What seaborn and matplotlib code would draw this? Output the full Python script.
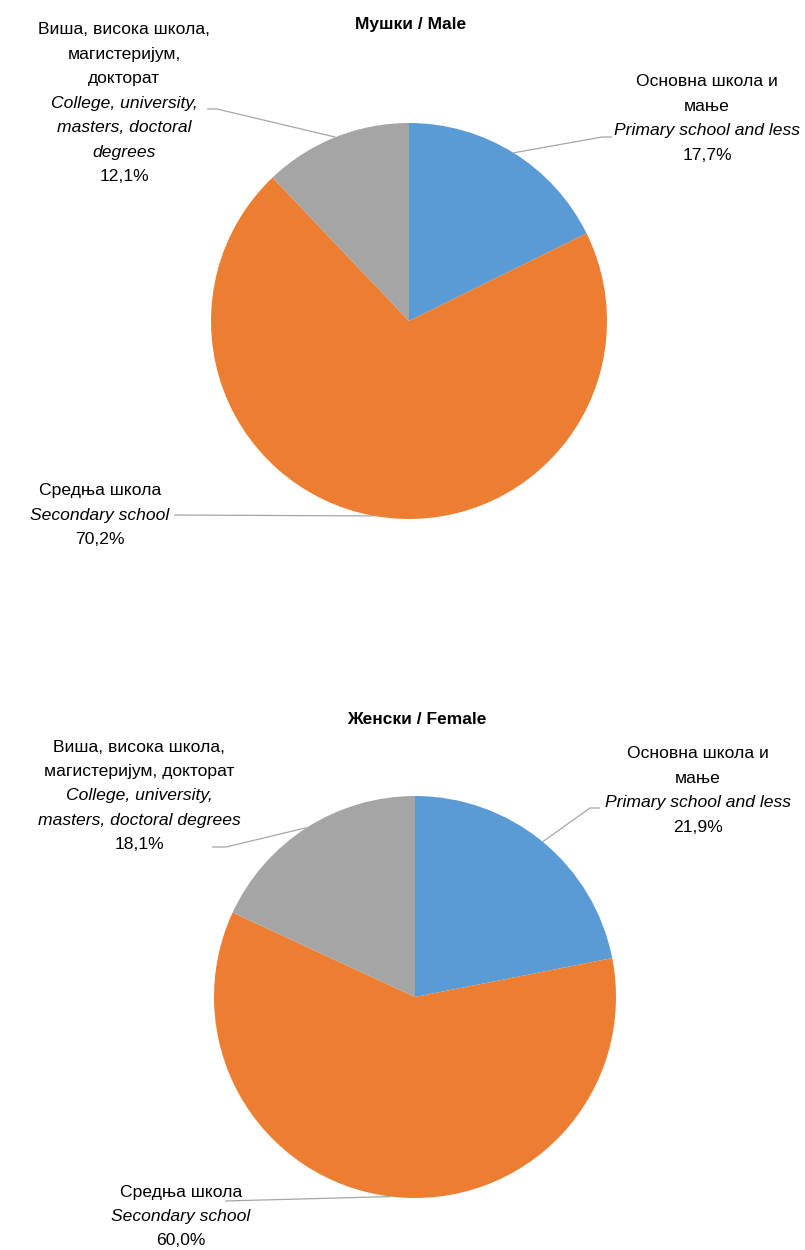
import matplotlib
matplotlib.use("Agg")
import matplotlib.pyplot as plt
import seaborn as sns
import numpy as np

# Подаци
kategorije = ["Основна школа и мање", "Средња школа", "Виша, висока школа, магистеријум, докторат"]
boje = ["#5B9BD5", "#ED7D31", "#A5A5A5"]
muski = [17.7, 70.2, 12.1]
zenski = [21.9, 60.0, 18.1]
naslovi = ["Мушки / Male", "Женски / Female"]

# natpisi: (srpski redovi, engleski redovi) za svaku kategoriju
natpisi_muski = [
    (["Основна школа и", "мање"], ["Primary school and less"]),
    (["Средња школа"], ["Secondary school"]),
    (["Виша, висока школа,", "магистеријум,", "докторат"],
     ["College, university,", "masters, doctoral", "degrees"]),
]
natpisi_zenski = [
    (["Основна школа и", "мање"], ["Primary school and less"]),
    (["Средња школа"], ["Secondary school"]),
    (["Виша, висока школа,", "магистеријум, докторат"],
     ["College, university,", "masters, doctoral degrees"]),
]

sns.set_theme(style="white")
plt.rcParams['font.family'] = ['Liberation Sans Narrow', 'Liberation Sans', 'DejaVu Sans']

W, H = 805, 1250
fig = plt.figure(figsize=(W / 100, H / 100), dpi=100)
ax = fig.add_axes([0, 0, 1, 1])

FS = 12.6
STEP = 24.4
LINE_COL = "#A6A6A6"


def fmt(v):
    return f"{v:.1f}".replace(".", ",") + "%"


def natpis(x, y_top, sr, en, v):
    redovi = [(t, "normal") for t in sr] + [(t, "italic") for t in en] + [(fmt(v), "normal")]
    for i, (t, st) in enumerate(redovi):
        ax.text(x, H - (y_top + i * STEP), t, ha="center", va="center",
                fontsize=FS, style=st, color="#000000")


def pita(vrednosti, cx, cy, r, naslov, ty, natpisi, poz, linije):
    ax.pie(vrednosti, colors=boje, startangle=90, counterclock=False,
           center=(cx, H - cy), radius=r, wedgeprops=dict(linewidth=0))
    ax.text(cx + 2, H - ty, naslov, ha="center", va="center", fontsize=12.5,
            fontweight="bold", color="#000000")
    ukupno = sum(vrednosti)
    kum = 0
    for v, (sr, en), (lx, ly), lin in zip(vrednosti, natpisi, poz, linije):
        sred = (kum + v / 2) / ukupno * 2 * np.pi
        kum += v
        ex = cx + r * np.sin(sred)
        ey = cy - r * np.cos(sred)
        natpis(lx, ly, sr, en, v)
        xs = [p[0] for p in lin] + [ex]
        ys = [H - p[1] for p in lin] + [H - ey]
        ax.plot(xs, ys, color=LINE_COL, lw=0.9, solid_capstyle="butt")


pita(muski, 409, 321, 198, naslovi[0], 25, natpisi_muski,
     [(707, 82), (100, 491), (124, 30)],
     [[(612, 137), (602, 137)], [(174, 515)], [(207, 109), (217, 109)]])

pita(zenski, 415, 997, 201, naslovi[1], 719, natpisi_zenski,
     [(698, 754), (181, 1192), (139, 747)],
     [[(600, 808), (590, 808)], [(225, 1201)], [(212, 847), (226, 847)]])

ax.set_xlim(0, W)
ax.set_ylim(0, H)
ax.set_aspect("equal")
ax.axis("off")

fig.savefig("out.png", dpi=100, facecolor="white")
